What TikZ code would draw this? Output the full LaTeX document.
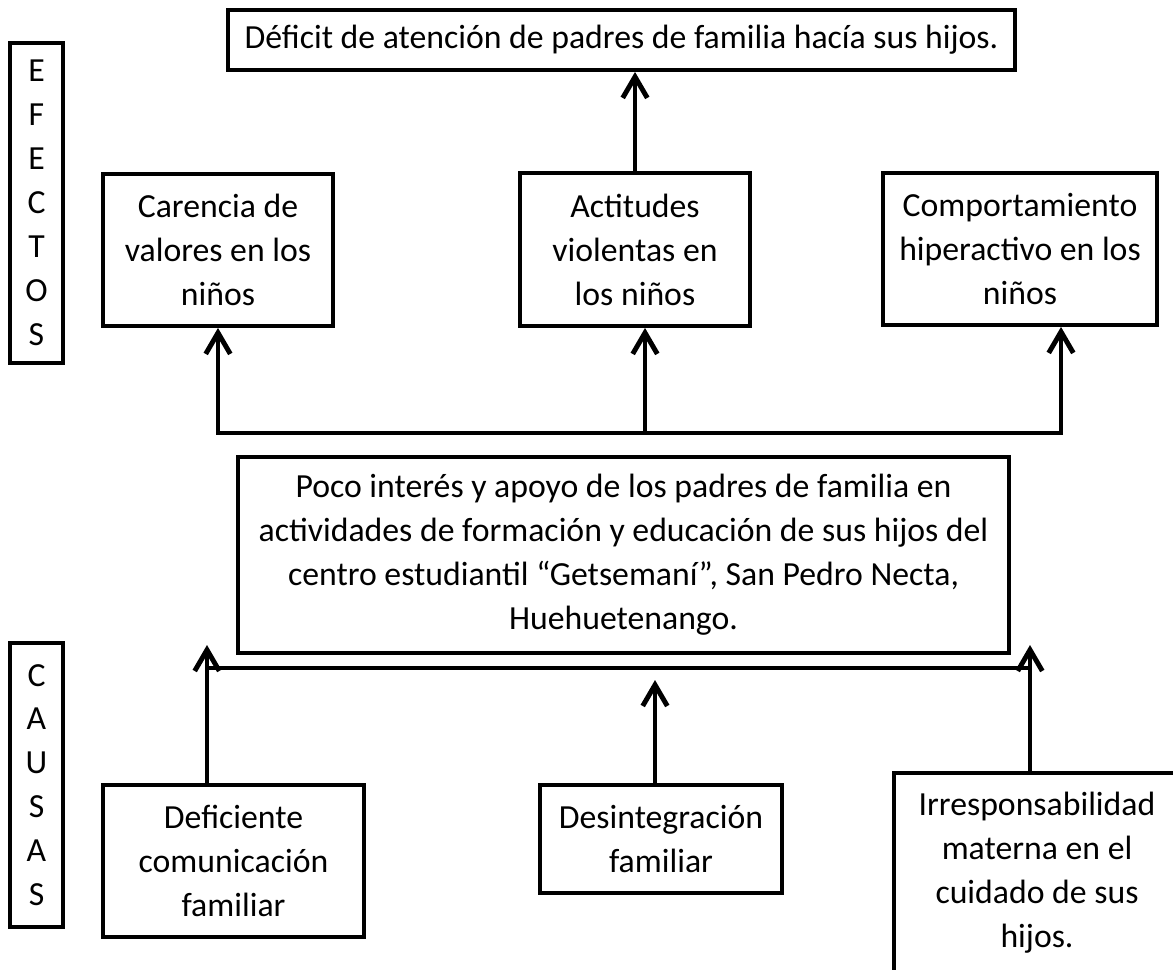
\documentclass[tikz,border=0pt]{standalone}
\usepackage{fontspec}
\setmainfont{Carlito}
\usetikzlibrary{arrows.meta,positioning}

\begin{document}
\begin{tikzpicture}[
    >={Straight Barb[length=6pt,width=7pt]},
    caja/.style={draw, line width=1.1pt, align=center, inner sep=0pt, font=\fontsize{9.6}{12.5}\selectfont},
    flecha/.style={line width=1.4pt, ->},
    linea/.style={line width=1.4pt}
]
    \useasboundingbox (0,0) rectangle (11.73,-9.69);

    % Side labels
    \node[caja, minimum width=0.53cm, minimum height=3.20cm] (efectos) at (0.365,-2.03) {E\\F\\E\\C\\T\\O\\S};
    \node[caja, minimum width=0.53cm, minimum height=2.84cm] (causas) at (0.365,-7.85) {C\\A\\U\\S\\A\\S};

    % Main effect
    \node[caja, minimum width=7.87cm, minimum height=0.60cm] (deficit) at (6.215,-0.40) {Déficit de atención de padres de familia hacía sus hijos.};

    % Effects
    \node[caja, minimum width=2.30cm, minimum height=1.52cm] (carencia) at (2.18,-2.50) {Carencia de\\valores en los\\niños};
    \node[caja, minimum width=2.30cm, minimum height=1.53cm] (actitudes) at (6.35,-2.495) {Actitudes\\violentas en\\los niños};
    \node[caja, minimum width=2.74cm, minimum height=1.52cm] (comport) at (10.20,-2.49) {Comportamiento\\hiperactivo en los\\niños};

    % Central problem
    \node[caja, minimum width=7.71cm, minimum height=1.96cm] (problema) at (6.235,-5.55) {Poco interés y apoyo de los padres de familia en\\actividades de formación y educación de sus hijos del\\centro estudiantil “Getsemaní”, San Pedro Necta,\\Huehuetenango.};

    % Causes
    \node[caja, minimum width=2.61cm, minimum height=1.52cm] (deficiente) at (2.335,-8.61) {Deficiente\\comunicación\\familiar};
    \node[caja, minimum width=2.42cm, minimum height=1.08cm] (desint) at (6.61,-8.39) {Desintegración\\familiar};
    \node[caja, minimum width=2.86cm, minimum height=2.00cm] (irresp) at (10.37,-8.73) {Irresponsabilidad\\materna en el\\cuidado de sus\\hijos.};

    % Upper bus
    \coordinate (busTL) at (2.18,-4.33);
    \coordinate (busTM) at (6.45,-4.33);
    \coordinate (busTR) at (10.61,-4.33);
    \draw[flecha, <->] (busTR |- comport.south) -- (busTR) -- (busTL) -- (carencia.south);
    \draw[flecha] (busTM) -- (busTM |- actitudes.south);
    \draw[flecha] (actitudes.north) -- (actitudes.north |- deficit.south);

    % Lower bus
    \coordinate (busBL) at (2.07,-6.68);
    \coordinate (busBR) at (10.30,-6.68);
    \coordinate (busBM) at (6.55,-6.80);
    \coordinate (tipL) at (2.07,-6.45);
    \coordinate (tipR) at (10.30,-6.45);
    \draw[linea] (busBL) -- (busBR);
    \draw[flecha] (tipL |- deficiente.north) -- (tipL);
    \draw[flecha] (tipR |- irresp.north) -- (tipR);
    \draw[flecha] (busBM |- desint.north) -- (busBM);
\end{tikzpicture}
\end{document}
